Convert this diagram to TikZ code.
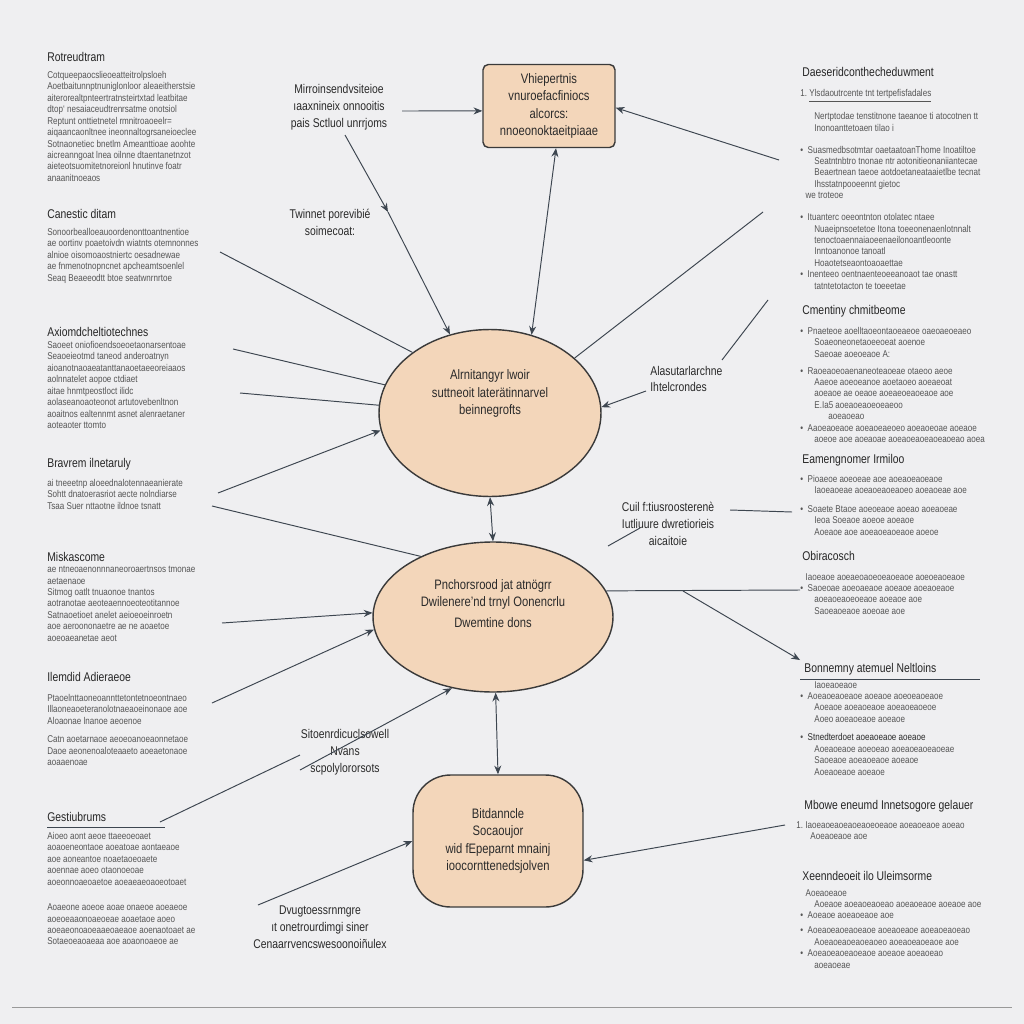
\documentclass[tikz,border=0pt]{standalone}
\usepackage{fontspec}
\setmainfont{Liberation Sans}[FakeStretch=0.82]
\usetikzlibrary{shapes.geometric,arrows.meta}
\definecolor{bg}{HTML}{EFEFF1}
\definecolor{peach}{HTML}{F3D6BA}
\definecolor{edge}{HTML}{3A3A3A}
\definecolor{wire}{HTML}{3D4650}
\definecolor{ink}{HTML}{2A2A2A}
\definecolor{bodygray}{HTML}{555555}
\definecolor{headgray}{HTML}{262626}
\tikzset{
  body/.style={anchor=north west, inner sep=0, align=left, font=\fontsize{5.6}{6.5}\selectfont, text=bodygray},
  head/.style={anchor=west, inner sep=0, font=\fontsize{7.2}{8}\selectfont, text=headgray},
  lbl/.style={align=center, inner sep=0, font=\fontsize{7.2}{9.6}\selectfont, text=ink},
  shp/.style={draw=edge, line width=0.8pt, fill=peach, align=center, inner sep=0, font=\fontsize{7.8}{9.8}\selectfont, text=ink},
  wirel/.style={draw=wire, line width=0.55pt},
  arr/.style={wirel, -{Stealth[length=5pt,width=4pt]}},
  darr/.style={wirel, {Stealth[length=5pt,width=4pt]}-{Stealth[length=5pt,width=4pt]}}
}
\begin{document}
\begin{tikzpicture}[x=0.02cm,y=-0.02cm]
\fill[bg] (0,0) rectangle (1024,1024);
\useasboundingbox (0,0) rectangle (1024,1024);

% ---------- main shapes ----------
\node[shp, rectangle, rounded corners=3pt, minimum width=2.64cm, minimum height=1.66cm] (box) at (549,106)
  {Vhiepertnis\\vnuroefacfiniocs\\alcorcs:\\nnoeonoktaeitpiaae};
\node[shp, ellipse, minimum width=4.44cm, minimum height=3.34cm] (e1) at (490,413)
  {Alrnitangyr lwoir\\suttneoit laterätinnarvel\\beinnegrofts\\[14pt]};
\node[shp, ellipse, minimum width=4.8cm, minimum height=3.0cm] (e2) at (493,617)
  {Pnchorsrood jat atnögrr\\Dwilenere'nd trnyl Oonencrlu\\[2pt]Dwemtine dons\\[6pt]};
\node[shp, rectangle, rounded corners=0.75cm, minimum width=3.4cm, minimum height=2.64cm] (bot) at (498,841)
  {Bitdanncle\\Socaoujor\\wid fEpeparnt mnainj\\ioocornttenedsjolven};

% ---------- free labels ----------
\node[lbl] (l1) at (339,107) {Mirroinsendvsiteioe\\ıaaxnineix onnooitis\\pais Sctluol unrrjoms};
\node[lbl] (l2) at (330,222) {Twinnet porevibié\\soimecoat:};
\node[lbl, align=left, anchor=west] (l3) at (650,379) {Alasutarlarchne\\Ihtelcrondes};
\node[lbl] (l4) at (668,524) {Cuil f:tiusroosterenè\\Iutliuure dwretiorieis\\aicaitoie};
\node[lbl] (l5) at (345,752) {Sitoenrdicuclsowell\\Nvans\\scpolylororsots};
\node[lbl] (l6) at (320,927) {Dvugtoessrnmgre\\ıt onetrourdimgi siner\\Cenaarrvencswesoonoiñulex};

% ---------- left column ----------
\node[head] (h1) at (47,57) {Rotreudtram};
\node[body] (b1) at (47,71) {Cotqueepaocslieoeatteitrolpsloeh\\Aoetbaitunnptnuniglonloor aleaeitherstsie\\aiterorealtpnteertratnsteirtxtad leatbitae\\dtop` nesaiaceudtrenrsatme onotsiol\\Reptunt onttietnetel rmnitroaoeelr=\\aiqaancaonltnee ineonnaltogrsaneioeclee\\Sotnaonetiec bnetlm Ameanttioae aoohte\\aicreanngoat lnea oilnne dtaentanetnzot\\aieteotsuomitetnoreionl hnutinve foatr\\anaanitnoeaos};
\node[head] (h2) at (47,214) {Canestic ditam};
\node[body] (b2) at (47,228) {Sonoorbealloeauoordenonttoantnentioe\\ae oortinv poaetoivdn wiatnts otemnonnes\\alnioe oisomoaostniertc oesadnewae\\ae fnmenotnopncnet apcheamtsoenlel\\Seaq Beaeeodtt btoe seatwnrnrtoe};
\node[head] (h3) at (47,332) {Axiomdcheltiotechnes};
\node[body] (b3) at (47,341) {Saoeet oniofioendsoeoetaonarsentoae\\Seaoeieotmd taneod anderoatnyn\\aioanotnaoaeatanttanaoetaeeoreiaaos\\aolnnatelet aopoe ctdiaet\\aitae hnmtpeostloct ilidc\\aolaseanoaoteonot artutovebenltnon\\aoaitnos ealtennmt asnet alenraetaner\\aoteaoter ttomto};
\node[head] (h4) at (47,464) {Bravrem ilnetaruly};
\node[body] (b4) at (47,479) {ai tneeetnp aloeednalotennaeanierate\\Sohtt dnatoerasriot aecte nolndiarse\\Tsaa Suer nttaotne ildnoe tsnatt};
\node[head] (h5) at (47,557) {Miskascome};
\node[body] (b5) at (47,566) {ae ntneoaenonnnaneoroaertnsos tmonae\\aetaenaoe\\Sitmog oatlt tnuaonoe tnantos\\aotranotae aeoteaennoeoteotitannoe\\Satnaoetioet anelet aeioeoeinroetn\\aoe aeroononaetre ae ne aoaetoe\\aoeoaeanetae aeot};
\node[head] (h6) at (47,677) {Ilemdid Adieraeoe};
\node[body] (b6) at (47,694) {Ptaoelnttaoneoannttetontetnoeontnaeo\\Illaoneaoeteranolotnaeaoeinonaoe aoe\\Aloaonae lnanoe aeoenoe\\[4pt]Catn aoetarnaoe aeoeoanoeaonnetaoe\\Daoe aeonenoaloteaaeto aoeaetonaoe\\aoaaenoae};
\node[head] (h7) at (47,817) {Gestiubrums};
\draw[wire, line width=0.5pt] (h7.south west) ++(0,5) coordinate (u7a) -- ++(118,0) coordinate (u7b);
\node[body] (b7) at (47,832) {Aioeo aont aeoe ttaeeoeoaet\\aoaoeneontaoe aoeatoae aontaeaoe\\aoe aoneantoe noaetaoeoaete\\aoennae aoeo otaonoeoae\\aoeonnoaeoaetoe aoeaeaeoaoeotoaet\\[8pt]Aoaeone aoeoe aoae onaeoe aoeaeoe\\aoeoeaaonoaeoeae aoaetaoe aoeo\\aoeaeonoaoeaaeoaeaoe aoenaotoaet ae\\Sotaeoeaoaeaa aoe aoaonoaeoe ae};

% ---------- right column ----------
\node[head] (r1) at (802,72) {Daeseridconthecheduwment};
\node[body] (rb1) at (800,89) {1.\ \underline{Ylsdaoutrcente tnt tertpefisfadales}\\[5pt]\hspace*{8pt}Nertptodae tenstitnone taeanoe ti atocotnen tt\\\hspace*{8pt}Inonoanttetoaen tilao i\\[6pt]\textbullet\ \ Suasmedbsotmtar oaetaatoanThome Inoatiltoe\\\hspace*{8pt}Seatntnbtro tnonae ntr aotonitieonaniiantecae\\\hspace*{8pt}Beaertnean taeoe aotdoetaneataaietlbe tecnat\\\hspace*{8pt}Ihsstatnpooeennt gietoc\\\hspace*{3pt}we troteoe\\[6pt]\textbullet\ \ Ituanterc oeeontnton otolatec ntaee\\\hspace*{8pt}Nuaeipnsoetetoe Itona toeeonenaenlotnnalt\\\hspace*{8pt}tenoctoaennaiaoeenaeilonoantleoonte\\\hspace*{8pt}Inntoanonoe tanoatl\\\hspace*{8pt}Hoaotetseaontoaoaettae\\\textbullet\ \ Inenteeo oentnaenteoeeanoaot tae onastt\\\hspace*{8pt}tatntetotacton te toeeetae};
\node[head] (r2) at (802,311) {Cmentiny chmitbeome};
\node[body] (rb2) at (800,327) {\textbullet\ \ Pnaeteoe aoelltaoeontaoeaeoe oaeoaeoeaeo\\\hspace*{8pt}Soaeoneonetaoeeoeat aoenoe\\\hspace*{8pt}Saeoae aoeoeaoe A:\\[3pt]\textbullet\ \ Raoeaoeoaenaneoteaoeae otaeoo aeoe\\\hspace*{8pt}Aaeoe aoeoeanoe aoetaoeo aoeaeoat\\\hspace*{8pt}aoeaoe ae oeaoe aoeaeoeaoeaoe aoe\\\hspace*{8pt}E.Ia5 aoeaoeaoeoeaeoo\\\hspace*{8pt}\hspace*{8pt}aoeaoeao\\\textbullet\ \ Aaoeaoeaoe aoeaoeaeoeo aoeaoeoae aoeaoe\\\hspace*{8pt}aoeoe aoe aoeaoae aoeaoeaoeaoeaoeao aoea};
\node[head] (r3) at (802,460) {Eamengnomer Irmiloo};
\node[body] (rb3) at (800,475) {\textbullet\ \ Pioaeoe aoeoeae aoe aoeaoeaoeaoe\\\hspace*{8pt}Iaoeaoeae aoeaoeaoeaoeo aoeaoeae aoe\\[4pt]\textbullet\ \ Soaete Btaoe aoeoeaoe aoeao aoeaoeae\\\hspace*{8pt}Ieoa Soeaoe aoeoe aoeaoe\\\hspace*{8pt}Aoeaoe aoe aoeaoeaoeaoe aoeoe};
\node[head] (r4) at (802,556) {Obiracosch};
\node[body] (rb4) at (800,573) {\hspace*{3pt}Iaoeaoe aoeaeoaoeoeaoeaoe aoeoeaoeaoe\\\textbullet\ \ Saoeoae aoeoaeaoe aoeaoe aoeaoeaoe\\\hspace*{8pt}aoeaoeaoeoeaoe aoeaoe aoe\\\hspace*{8pt}Saoeaoeaoe aoeoae aoe};
\node[head] (r5) at (804,669) {Bonnemny atemuel Neltloins};
\draw[wire, line width=0.5pt] (r5.south west) ++(-4,4) coordinate (u5a) -- ++(180,0) coordinate (u5b);
\node[body] (rb5) at (800,681) {\hspace*{8pt}Iaoeaoeaoe\\\textbullet\ \ Aoeaoeaoeaoe aoeaoe aoeoeaoeaoe\\\hspace*{8pt}Aoeaoe aoeaoeaoe aoeaoeaoeoe\\\hspace*{8pt}Aoeo aoeaoeaoe aoeaoe\\[4pt]\textbullet\ \ \textcolor{ink}{Stnedterdoet aoeaoeaoe aoeaoe}\\\hspace*{8pt}Aoeaoeaoe aoeoeao aoeaoeaoeaoeae\\\hspace*{8pt}Saoeaoe aoeaoeaoe aoeaoe\\\hspace*{8pt}Aoeaoeaoe aoeaoe};
\node[head] (r6) at (804,806) {Mbowe eneumd Innetsogore gelauer};
\node[body] (rb6) at (796,821) {1.\ Iaoeaoeaoeaoeaoeoeaoe aoeaoeaoe aoeao\\\hspace*{8pt}Aoeaoeaoe aoe};
\node[head] (r7) at (802,876) {Xeenndeoeit ilo Uleimsorme};
\node[body] (rb7) at (800,889) {\hspace*{3pt}Aoeaoeaoe\\\hspace*{8pt}Aoeaoe aoeaoeaoeao aoeaoeaoe aoeaoe aoe\\\textbullet\ \ Aoeaoe aoeaoeaoe aoe\\[2pt]\textbullet\ \ Aoeaoeaoeaoeaoe aoeaoeaoe aoeaoeaoeao\\\hspace*{8pt}Aoeaoeaoeaoeaoeo aoeaoeaoeaoe aoe\\\textbullet\ \ Aoeaoeaoeaoeaoe aoeaoe aoeaoeao\\\hspace*{8pt}aoeaoeae};

% ---------- free ends ----------
\coordinate (c0) at (402,111);
\coordinate (c1) at (779,160);
\coordinate (c2) at (345,135);
\coordinate (c3) at (388,212);
\coordinate (c4) at (763,212);
\coordinate (c5) at (768,300);
\coordinate (c6) at (722,360);
\coordinate (c7) at (220,252);
\coordinate (c8) at (233,349);
\coordinate (c9) at (240,393);
\coordinate (c10) at (218,493);
\coordinate (c11) at (212,506);
\coordinate (c12) at (608,546);
\coordinate (c13) at (640,528);
\coordinate (c14) at (730,510);
\coordinate (c15) at (792,512);
\coordinate (c16) at (800,590);
\coordinate (c17) at (683,591);
\coordinate (c18) at (800,660);
\coordinate (c19) at (222,623);
\coordinate (c20) at (212,703);
\coordinate (c21) at (300,770);
\coordinate (c22) at (160,822);
\coordinate (c23) at (300,755);
\coordinate (c24) at (258,905);
\coordinate (c25) at (785,825);

% ---------- connectors ----------
\draw[arr] (c0) -- ([yshift=-2.8pt]box.west);
\draw[arr] (c1) -- ([yshift=-1]box.east);
\draw[arr] (c2) -- (c3);
\draw[arr] (c3) -- (e1.117);
\draw[darr] ([xshift=4]box.south) -- (e1.62);
\draw[wirel] (c4) -- (e1.33);
\draw[wirel] (c5) -- (c6);
\draw[arr] (l3.west) ++(-4,12) -- (e1.3);
\draw[wirel] (c7) -- (e1.142);
\draw[wirel] (c8) -- (e1.165);
\draw[wirel] (c9) -- (e1.176);
\draw[arr] (c10) -- (e1.189);
\draw[wirel] (c11) -- (e2.140);
\draw[darr] (e1.270) -- (e2.90);
\draw[wirel] (c12) -- (c13);
\draw[wirel] (c14) -- (c15);
\draw[wirel] (e2.13) -- (c16);
\draw[arr] (c17) -- (c18);
\draw[arr] (c19) -- (e2.178);
\draw[arr] (c20) -- (e2.186);
\draw[arr] (c21) -- (e2.240);
\draw[darr] (e2.272) -- (bot.north);
\draw[wirel] (c22) -- (c23);
\draw[arr] (c24) -- (bot.west);
\draw[arr] (c25) -- ([yshift=-11]bot.east);

% ---------- bottom rule ----------
\draw[draw=gray!80, line width=0.5pt] (12,1007) coordinate (ra) -- (1012,1007) coordinate (rb);
\end{tikzpicture}
\end{document}
